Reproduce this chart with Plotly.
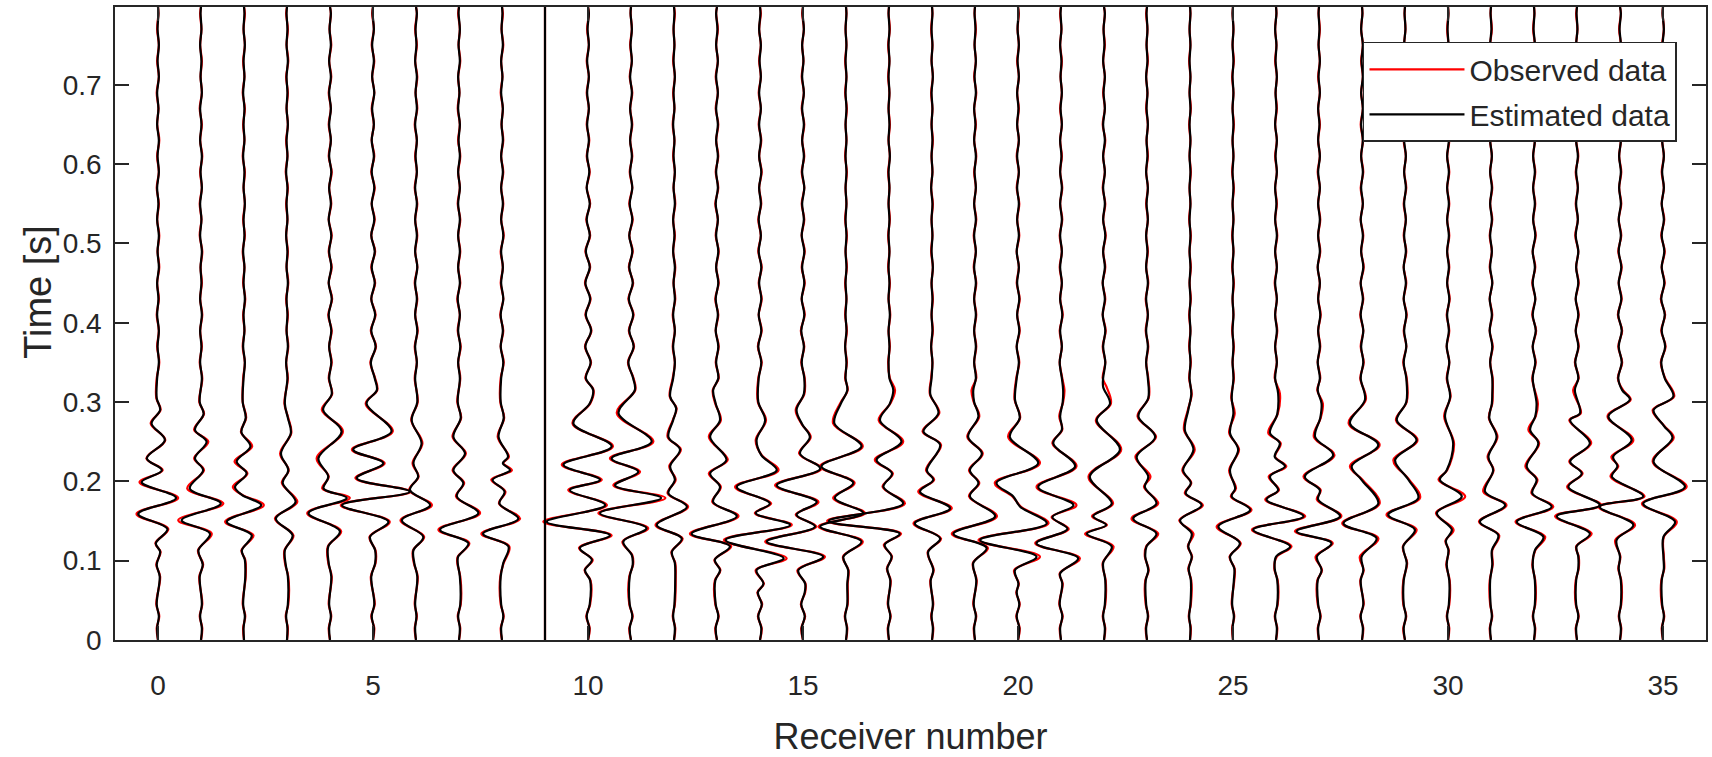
import plotly.graph_objects as go

# Receiver positions along the line (one trace per receiver)
RECEIVERS = list(range(36))

# Time knots (ms) of the quiet parts of every trace: before the arrivals and after them
LOW_MS = [0, 15, 30, 45]
HIGH_MS = [330, 350, 370, 390, 410, 430, 450, 470, 490, 510, 530, 550,
           570, 590, 610, 630, 650, 670, 690, 710, 730, 750, 770, 790, 798]

# Axis ticks
X_TICKS = [0, 5, 10, 15, 20, 25, 30, 35]
Y_TICKS = [0, 0.1, 0.2, 0.3, 0.4, 0.5, 0.6, 0.7]
Y_TICK_TEXT = ["0", "0.1", "0.2", "0.3", "0.4", "0.5", "0.6", "0.7"]

# Trace deflections in percent of the receiver spacing.
# *_WAVELET: "time_ms:deflection" pairs around the arrivals,
# *_LOW / *_HIGH: deflections at LOW_MS / HIGH_MS.
EST_WAVELET = [
    "80:4 95:-3 111:5 122:-5 140:22 159:-46 179:42 199:-38 214:9 229:-26 252:16 273:-15 290:5 305:-3",
    "80:-3 95:4 113:-6 134:21 151:-45 172:46 191:-26 214:5 229:-14 250:13 265:-14 285:6 300:-3",
    "80:3 101:2 113:-5 132:18 149:-40 170:40 183:-5 193:-21 210:6 225:-17 244:15 262:-6 280:4 300:-3",
    "80:2 95:-3 113:-5 132:13 153:-26 174:20 198:-10 214:3 235:-14 261:9 280:2 298:-5",
    "80:3 97:-3 118:-4 137:23 160:-50 179:39 191:-15 206:-4 229:-27 263:27 290:-16 310:4",
    "80:-4 97:5 113:5 130:-7 149:36 170:-72 187:85 204:-38 223:24 240:-46 263:43 298:-15 315:9",
    "80:3 97:-4 113:-6 130:17 151:-33 170:33 189:-14 206:5 223:-6 248:13 277:-10 300:3",
    "80:2 97:-3 105:-2 122:22 139:-44 160:45 181:-5 198:10 214:-13 235:14 256:-13 280:4 300:-3",
    "80:-3 97:3 118:15 134:-44 153:38 172:-6 187:6 202:-22 214:19 223:2 231:14 256:-8 280:4 300:-3",
    "",
    "75:5 88:-7 101:9 116:-19 132:51 149:-96 170:40 189:-42 202:28 221:-57 244:55 273:-34 298:4 315:12",
    "80:-3 95:4 107:2 124:-18 141:36 160:-72 179:70 195:-37 212:17 229:-45 250:48 286:-29 315:9",
    "80:3 97:2 111:-5 128:18 145:-40 168:30 185:-13 202:2 219:-9 240:14 256:-13 277:-2 292:5 307:-9",
    "75:-4 88:7 101:-5 118:30 134:-59 156:46 174:-9 193:7 210:-16 227:22 256:-16 277:7 298:-3 315:-9",
    "60:-5 71:8 88:-8 103:55 126:-80 145:70 160:-10 172:23 193:-54 214:39 233:3 252:-8 277:12 300:-4",
    "60:4 71:5 88:-11 105:47 124:-84 143:28 158:-15 174:32 195:-61 216:40 235:-7 256:16 272:-2 290:-15 310:2",
    "71:3 88:5 105:-6 124:36 143:-60 160:40 179:-26 198:17 219:-57 244:36 273:-27 298:-12 315:3",
    "75:3 90:-4 105:6 120:-10 134:25 150:-140 172:33 193:-13 210:7 227:-29 250:29 277:-21 298:2 315:10",
    "75:-3 88:3 111:-9 128:19 147:-40 166:42 187:-28 202:3 214:-12 246:19 263:-20 286:15 310:-4",
    "75:3 97:-4 116:27 134:-50 156:47 181:-12 198:8 214:-12 235:16 256:-16 282:8 300:-2 315:-4",
    "60:-3 71:1 88:-7 105:43 126:-88 147:67 168:5 181:-11 198:-50 223:47 256:-19 280:4 303:-7",
    "71:3 84:-2 103:40 122:-57 140:15 155:-20 170:29 193:-53 219:33 248:-18 265:2 282:-2 300:4 315:5",
    "75:3 97:-2 118:18 134:-40 145:5 156:-25 172:18 206:-33 240:37 277:-17 298:14 319:-2",
    "75:-3 88:3 105:-4 118:-1 134:22 153:-32 172:22 193:-5 206:3 231:-24 256:19 282:-20 305:3",
    "75:2 90:-3 105:4 118:-4 134:4 151:-23 170:27 185:-10 198:2 214:-16 240:8 265:-12 290:-4 310:3",
    "75:2 90:3 105:-7 122:16 143:-34 164:40 181:-3 191:5 214:-7 240:12 261:-7 286:1 305:-3",
    "75:3 90:-3 105:0 118:33 139:-53 156:64 177:-22 189:5 206:-14 219:21 231:-3 248:9 261:-14 285:3 311:5",
    "75:-3 88:6 105:-5 122:29 137:-52 156:49 177:-2 189:2 206:-33 233:33 256:-9 280:3 298:6 315:-3",
    "75:-3 88:3 105:-1 128:34 147:-43 172:38 202:-1 219:-24 246:38 273:-28 303:7",
    "75:-3 97:4 118:-4 139:23 158:-39 179:31 202:8 227:-23 252:27 277:-19 300:3",
    "75:3 95:-3 113:1 125:-5 139:9 160:-26 181:32 202:-19 214:-3 248:12 282:-7 307:5",
    "75:-2 95:3 113:2 132:17 149:-26 170:33 187:-14 214:5 231:-6 256:13 280:-4 298:2 310:3",
    "75:2 95:-3 113:2 130:22 149:-40 168:41 185:-4 202:6 219:-17 248:10 265:-9 282:3 298:6",
    "75:-2 90:3 105:3 118:-1 134:30 156:-47 170:53 193:-20 210:11 225:-16 248:30 277:-16 286:7 315:-5",
    "75:2 90:-3 105:0 126:-8 145:31 168:-47 181:54 206:-19 219:-6 231:-16 252:27 282:-27 303:23 315:5",
    "75:-3 90:2 105:1 130:1 149:28 172:-46 193:51 225:-22 255:22 270:2 290:-22 307:24",
]

OBS_WAVELET = [
    "80:5 95:-4 111:6 122:-6 140:24 159:-50 179:47 199:-43 214:11 229:-27 252:17 273:-17 290:6 305:-4",
    "80:-4 95:5 113:-7 134:25 151:-53 172:52 191:-32 214:7 229:-16 250:17 265:-16 285:7 300:-4",
    "80:4 101:3 113:-6 132:22 149:-44 170:46 183:-4 193:-26 210:8 225:-22 244:19 262:-7 280:5 300:-3",
    "80:3 95:-4 113:-6 132:15 153:-28 174:24 198:-12 214:4 235:-16 261:10 280:3 298:-6",
    "80:4 97:-4 118:-5 137:26 160:-53 179:46 191:-18 206:-3 229:-31 263:30 290:-19 310:5",
    "80:-5 97:6 113:6 130:-8 149:39 170:-75 187:88 204:-41 223:27 240:-49 263:46 298:-17 315:10",
    "80:4 97:-5 113:-7 130:19 151:-36 170:37 189:-16 206:6 223:-8 248:15 277:-11 300:4",
    "80:3 97:-4 105:-3 122:24 139:-48 160:49 181:-7 198:12 214:-15 235:16 256:-15 280:5 300:-4",
    "80:-4 97:4 118:17 134:-48 153:42 172:-7 187:8 202:-25 214:23 223:3 231:16 256:-10 280:5 300:-4",
    "",
    "75:6 88:-8 101:11 116:-21 132:55 149:-104 170:44 189:-46 202:32 221:-61 244:58 273:-36 298:5 315:13",
    "80:-4 95:5 107:3 124:-20 141:40 160:-76 179:80 195:-41 212:21 229:-49 250:52 286:-33 315:10",
    "80:4 97:3 111:-6 128:20 145:-43 168:33 185:-15 202:4 219:-11 240:16 256:-15 277:-3 292:6 307:-10",
    "75:-5 88:8 101:-6 118:33 134:-63 156:50 174:-11 193:9 210:-19 227:25 256:-19 277:9 298:-4 315:-10",
    "60:-6 71:9 88:-10 103:62 126:-84 145:74 160:-12 172:26 193:-58 214:43 233:4 252:-10 277:14 300:-5",
    "60:5 71:6 88:-13 105:51 124:-88 143:31 158:-17 174:36 195:-65 216:43 235:-9 256:18 272:-3 290:-17 310:3",
    "71:4 88:6 105:-7 124:39 143:-64 160:44 179:-30 198:20 219:-60 244:39 273:-30 298:-14 315:4",
    "75:4 90:-5 105:7 120:-12 134:28 150:-144 172:37 193:-15 210:9 227:-33 250:33 277:-24 298:3 315:14",
    "75:-4 88:4 111:-10 128:21 147:-43 166:46 187:-32 202:5 214:-14 246:21 263:-22 286:17 310:-5",
    "75:4 97:-5 116:30 134:-54 156:51 181:-14 198:10 214:-14 235:18 256:-18 282:10 300:-3 315:-8",
    "60:-4 71:2 88:-9 105:51 126:-92 147:71 168:7 181:-13 198:-54 223:51 256:-23 280:5 303:-8",
    "71:4 84:-3 103:44 122:-60 140:18 155:-22 170:36 193:-57 219:36 248:-20 265:3 282:-4 300:5 315:8",
    "75:4 97:-3 118:22 134:-44 145:7 156:-28 172:21 206:-36 240:40 277:-19 298:16 319:6",
    "75:-4 88:4 105:-5 118:-2 134:26 153:-36 172:26 193:-7 206:8 231:-27 256:21 282:-22 305:4",
    "75:3 90:-4 105:5 118:-5 134:8 151:-25 170:30 185:-12 198:3 214:-18 240:11 265:-14 290:-5 310:4",
    "75:3 90:4 105:-8 122:18 143:-38 164:43 181:-5 191:7 214:-9 240:14 261:-9 286:4 305:-4",
    "75:4 90:-4 105:2 118:36 139:-56 156:68 177:-25 189:7 206:-17 219:24 231:-2 248:11 261:-18 285:4 311:9",
    "75:-4 88:7 105:-8 122:32 137:-56 156:52 177:-5 189:4 206:-36 233:36 256:-12 280:4 298:9 315:-4",
    "75:-4 88:4 105:-5 128:38 147:-46 172:41 202:1 219:-28 246:41 273:-31 303:9",
    "75:-4 97:5 118:-5 139:27 158:-43 179:35 202:10 227:-27 252:29 277:-21 300:4",
    "75:4 95:-4 113:2 125:-6 139:13 160:-28 181:40 202:-22 214:-2 248:14 282:-9 307:6",
    "75:-3 95:4 113:3 132:19 149:-28 170:36 187:-18 214:6 231:-8 256:15 280:-5 298:3 310:4",
    "75:3 95:-4 113:3 130:26 149:-43 168:45 185:-6 202:8 219:-20 248:12 265:-13 282:4 298:9",
    "75:-3 90:4 105:4 118:-2 134:34 156:-51 170:56 193:-23 210:13 225:-18 248:33 277:-18 286:9 315:-9",
    "75:3 90:-4 105:1 126:-11 145:35 168:-50 181:57 206:-22 219:-4 231:-20 252:31 282:-29 303:25 315:7",
    "75:-4 90:3 105:2 130:2 149:32 172:-49 193:55 225:-24 255:25 270:3 290:-24 307:26",
]

EST_LOW = [
    "0 -2 2 -3", "0 2 -2 2", "0 -1 2 -2", "0 1 -2 2", "0 -2 2 -2", "0 2 -3 3",
    "0 -2 1 -2", "0 2 -2 3", "0 -2 3 -2", "0 0 0 0", "0 3 -3 4", "0 -3 3 -3",
    "0 2 -2 1", "0 -3 3 -3", "0 3 -4 4", "0 -3 4 -4", "0 2 -2 3", "0 -2 3 -2",
    "0 2 -1 2", "0 -2 2 -3", "0 3 -3 3", "0 -2 3 -3", "0 2 -2 2", "0 -2 2 -2",
    "0 1 -2 1", "0 -1 2 -2", "0 2 -2 3", "0 -2 3 -2", "0 2 -3 3", "0 -3 2 -3",
    "0 2 -2 2", "0 -2 2 -1", "0 2 -2 2", "0 -2 3 -2", "0 2 -2 2", "0 -2 2 -2",
]

OBS_LOW = [
    "0 -3 3 -4", "0 3 -3 3", "0 -2 3 -3", "0 2 -3 3", "0 -3 3 -3", "0 3 -4 4",
    "0 -3 2 -3", "0 3 -3 4", "0 -3 4 -3", "0 0 0 0", "0 4 -4 5", "0 -4 4 -4",
    "0 3 -3 2", "0 -4 4 -4", "0 4 -5 5", "0 -4 5 -5", "0 3 -3 4", "0 -3 4 -3",
    "0 3 -2 3", "0 -3 3 -4", "0 4 -4 4", "0 -3 4 -4", "0 3 -3 3", "0 -3 3 -3",
    "0 2 -3 2", "0 -2 3 -3", "0 3 -3 4", "0 -3 4 -3", "0 3 -4 4", "0 -4 3 -4",
    "0 3 -3 3", "0 -3 3 -2", "0 3 -3 3", "0 -3 4 -3", "0 3 -3 3", "0 -3 3 -3",
]

EST_HIGH = [
    "-2 2 -1 2 -2 1 -2 2 -1 2 -2 1 -2 2 -1 2 -2 1 -2 2 -1 2 -1 1 0",
    "2 -2 1 -2 2 -2 1 -1 2 -2 1 -2 2 -1 2 -2 1 -2 2 -1 1 -2 1 -1 0",
    "-1 2 -2 1 -1 2 -1 1 -2 1 -1 2 -1 1 -2 1 -1 1 -2 1 -1 2 -1 1 0",
    "1 -2 2 -1 1 -1 2 -1 1 -2 1 -1 1 -2 1 -1 2 -1 1 -1 2 -1 1 -1 0",
    "-2 3 -2 3 -3 4 -3 3 -2 3 -3 2 -2 3 -2 2 -2 2 -2 2 -2 2 -1 2 0",
    "4 -5 6 -4 5 -4 4 -3 4 -4 3 -3 3 -3 2 -3 2 -2 3 -2 2 -2 2 -1 0",
    "-2 2 -2 3 -2 2 -2 3 -2 2 -2 2 -2 2 -1 2 -2 2 -1 2 -2 1 -1 2 0",
    "2 -2 3 -2 2 -3 2 -2 2 -2 2 -2 2 -2 2 -1 2 -2 1 -2 2 -1 2 -1 0",
    "-2 3 -3 2 -3 3 -2 2 -2 3 -2 2 -2 2 -2 2 -1 2 -2 1 -2 2 -1 1 0",
    "0 0 0 0 0 0 0 0 0 0 0 0 0 0 0 0 0 0 0 0 0 0 0 0 0",
    "-5 6 -6 7 -5 5 -6 4 -5 4 -3 4 -3 3 -2 2 -2 2 -2 2 -2 2 -1 2 0",
    "5 -6 6 -4 5 -5 4 -4 3 -4 3 -3 3 -2 2 -2 2 -2 2 -2 2 -1 2 -1 0",
    "-2 2 -2 2 -2 2 -1 2 -2 1 -2 2 -1 2 -1 1 -2 1 -1 2 -1 1 -1 1 0",
    "3 -2 3 -3 2 -3 3 -2 3 -2 2 -3 2 -2 2 -2 2 -2 2 -2 2 -2 1 -2 0",
    "-3 3 -4 3 -3 3 -2 3 -3 2 -3 2 -2 3 -2 2 -2 2 -2 2 -1 2 -2 1 0",
    "3 -3 2 -4 3 -3 3 -2 3 -3 2 -2 3 -2 2 -2 2 -2 2 -2 1 -2 2 -1 0",
    "-1 1 -2 1 -1 1 -1 1 -1 1 -1 1 -1 1 -1 1 -1 1 -1 1 -1 1 -1 1 0",
    "1 -1 1 -1 2 -1 1 -1 1 -1 1 -1 1 -1 2 -1 1 -1 1 -1 1 -1 1 -1 0",
    "-1 1 -2 1 -1 1 -1 2 -1 1 -1 1 -2 1 -1 1 -1 1 -1 2 -1 1 -1 1 0",
    "2 -2 2 -2 2 -2 2 -2 2 -2 2 -2 2 -1 2 -2 1 -2 2 -1 2 -1 1 -1 0",
    "-3 2 -3 3 -2 3 -2 2 -3 2 -2 2 -2 2 -2 2 -2 1 -2 2 -1 2 -1 1 0",
    "2 -3 2 -2 3 -2 2 -2 2 -2 2 -2 2 -2 1 -2 2 -1 2 -1 1 -2 1 -1 0",
    "-2 3 -2 3 -3 2 -3 2 -2 3 -2 2 -2 2 -2 2 -2 2 -1 2 -2 1 -1 2 0",
    "2 -2 2 -2 2 -2 2 -2 1 -2 2 -1 2 -2 1 -1 2 -1 1 -2 1 -1 1 -1 0",
    "-1 1 -1 1 -1 1 -1 1 -1 1 -1 1 -1 1 -1 1 -1 1 -1 1 -1 1 -1 1 0",
    "1 -1 1 -1 1 -1 1 -1 1 -1 1 -1 1 -1 1 -1 1 -1 1 -1 1 -1 1 -1 0",
    "-2 2 -2 2 -2 2 -2 2 -2 2 -2 1 -2 2 -1 2 -2 1 -1 2 -1 1 -2 1 0",
    "2 -3 2 -2 3 -2 2 -3 2 -2 2 -2 2 -2 2 -2 1 -2 2 -1 2 -1 1 -1 0",
    "-3 3 -2 3 -3 2 -3 3 -2 2 -3 2 -2 2 -2 2 -2 2 -2 2 -1 2 -2 1 0",
    "3 -3 3 -2 3 -3 2 -3 2 -2 2 -2 2 -2 2 -2 2 -2 2 -1 2 -2 1 -1 0",
    "-2 3 -3 2 -2 3 -2 2 -2 2 -2 2 -2 2 -2 2 -1 2 -2 1 -2 1 -1 1 0",
    "3 -2 3 -3 2 -3 3 -2 2 -2 2 -2 2 -2 2 -2 1 -2 2 -1 1 -2 1 -1 0",
    "-3 3 -3 4 -3 3 -3 2 -3 3 -2 2 -2 2 -2 2 -2 2 -2 1 -2 2 -1 1 0",
    "3 -4 3 -3 3 -3 3 -2 3 -3 2 -2 2 -2 2 -2 2 -2 2 -2 1 -2 1 -1 0",
    "-4 4 -3 4 -4 3 -3 3 -3 2 -3 2 -2 2 -2 2 -2 2 -2 1 -2 2 -1 2 0",
    "4 -4 5 -3 4 -4 3 -3 3 -3 2 -3 2 -2 2 -2 2 -2 2 -2 2 -1 2 -1 0",
]

OBS_HIGH = [
    "-3 3 -2 2 -3 2 -2 3 -1 3 -2 2 -3 2 -2 3 -2 1 -3 2 -2 2 -2 1 0",
    "3 -3 2 -2 3 -2 2 -1 3 -3 1 -3 2 -2 3 -2 2 -3 2 -1 2 -2 1 -2 0",
    "-2 2 -3 1 -2 3 -2 1 -3 2 -2 2 -1 2 -3 1 -2 2 -3 1 -2 2 -1 2 0",
    "2 -2 3 -1 2 -2 3 -1 2 -2 1 -2 2 -3 1 -2 2 -1 2 -2 3 -1 2 -2 0",
    "-3 4 -2 4 -4 5 -3 4 -3 4 -3 3 -2 4 -3 2 -3 2 -3 3 -2 3 -1 2 0",
    "5 -6 7 -5 6 -4 5 -4 5 -4 4 -3 4 -4 3 -3 2 -3 3 -2 3 -3 2 -2 0",
    "-3 2 -3 4 -2 3 -3 3 -2 3 -2 3 -3 2 -2 2 -3 3 -1 3 -2 2 -2 2 0",
    "3 -2 4 -3 2 -4 3 -2 3 -2 3 -3 2 -2 3 -2 2 -3 1 -2 3 -1 2 -2 0",
    "-3 4 -3 3 -4 3 -3 2 -3 4 -2 3 -2 3 -2 3 -1 2 -3 1 -2 3 -1 2 0",
    "0 0 0 0 0 0 0 0 0 0 0 0 0 0 0 0 0 0 0 0 0 0 0 0 0",
    "-6 7 -7 8 -6 6 -7 5 -6 5 -4 5 -3 4 -3 3 -3 2 -3 2 -3 2 -2 2 0",
    "6 -7 7 -5 6 -6 5 -5 4 -4 4 -4 3 -3 3 -2 3 -2 3 -3 2 -2 2 -1 0",
    "-3 2 -3 2 -3 3 -1 3 -2 2 -2 3 -1 2 -2 1 -3 1 -2 2 -2 1 -1 2 0",
    "4 -3 4 -3 3 -4 4 -2 4 -3 2 -4 3 -3 3 -2 3 -3 2 -3 2 -2 2 -2 0",
    "-4 4 -5 4 -3 4 -3 4 -4 2 -4 3 -2 4 -2 3 -3 2 -3 2 -2 2 -2 2 0",
    "4 -4 3 -5 4 -3 4 -3 4 -3 3 -3 3 -3 3 -2 3 -3 2 -3 1 -2 2 -2 0",
    "-2 2 -2 2 -2 1 -2 2 -1 2 -2 1 -1 2 -2 1 -1 2 -2 1 -2 1 -1 1 0",
    "2 -2 2 -1 3 -1 2 -2 1 -2 2 -1 1 -2 2 -1 2 -1 1 -2 1 -2 2 -1 0",
    "-2 1 -2 2 -1 2 -1 2 -2 1 -1 2 -2 1 -1 2 -1 1 -2 2 -1 1 -2 1 0",
    "3 -2 3 -2 3 -2 3 -3 2 -3 3 -2 2 -2 3 -2 2 -2 3 -2 2 -1 2 -1 0",
    "-4 3 -3 4 -2 4 -3 2 -3 3 -2 3 -3 2 -3 2 -2 2 -2 2 -2 2 -1 2 0",
    "3 -3 2 -3 4 -2 2 -3 2 -3 3 -2 3 -2 2 -2 2 -2 2 -1 2 -2 1 -2 0",
    "-3 3 -3 4 -3 3 -3 3 -2 4 -2 3 -3 2 -2 3 -3 2 -2 2 -2 2 -1 2 0",
    "3 -2 3 -3 2 -3 3 -2 2 -2 2 -2 2 -2 2 -1 2 -2 1 -2 2 -1 1 -2 0",
    "-2 2 -2 1 -2 2 -1 2 -1 2 -2 1 -1 2 -1 1 -2 2 -1 1 -2 1 -1 1 0",
    "2 -1 2 -2 1 -1 2 -2 1 -2 1 -1 2 -2 1 -1 2 -1 1 -2 2 -1 1 -1 0",
    "-3 2 -2 3 -2 2 -3 2 -2 3 -2 2 -2 2 -2 2 -2 2 -1 2 -2 1 -2 1 0",
    "3 -3 3 -2 4 -2 2 -3 3 -2 3 -2 2 -3 2 -2 2 -2 2 -2 2 -1 2 -1 0",
    "-4 4 -3 3 -4 3 -3 4 -2 3 -3 2 -3 3 -2 2 -3 2 -2 2 -2 2 -2 1 0",
    "4 -4 3 -3 4 -3 3 -3 3 -3 2 -3 3 -2 2 -3 2 -2 2 -2 2 -2 1 -1 0",
    "-3 3 -3 3 -3 4 -2 3 -2 3 -2 3 -2 3 -2 3 -2 2 -2 2 -2 1 -2 1 0",
    "4 -2 4 -3 3 -3 3 -3 2 -3 3 -2 3 -2 2 -2 2 -2 2 -2 1 -2 2 -1 0",
    "-4 4 -3 5 -4 3 -4 3 -3 4 -2 3 -2 3 -2 2 -3 2 -2 2 -2 2 -2 1 0",
    "4 -5 4 -3 4 -3 4 -2 3 -4 2 -3 2 -3 3 -2 2 -2 3 -2 2 -2 1 -2 0",
    "-5 5 -4 5 -5 4 -3 4 -4 3 -3 3 -2 3 -2 2 -3 2 -2 2 -2 2 -2 2 0",
    "5 -5 6 -4 5 -5 4 -3 4 -4 3 -3 2 -3 2 -2 3 -2 2 -2 2 -2 2 -1 0",
]

INK = "#262626"
FONT = "Liberation Sans, Arial, Helvetica, sans-serif"


def trace_knots(low, wavelet, high):
    """Combine the three pieces of one trace into sorted (time_s, deflection) lists."""
    pts = list(zip(LOW_MS, [int(v) for v in low.split()]))
    for pair in wavelet.split():
        t, a = pair.split(":")
        pts.append((int(t), int(a)))
    pts += list(zip(HIGH_MS, [int(v) for v in high.split()]))
    pts.sort()
    times = [p[0] / 1000.0 for p in pts]
    defl = [p[1] / 100.0 for p in pts]
    return times, defl


fig = go.Figure()

series = [
    ("Observed data", "#ff0000", OBS_LOW, OBS_WAVELET, OBS_HIGH),
    ("Estimated data", "#000000", EST_LOW, EST_WAVELET, EST_HIGH),
]

for name, color, lows, wavelets, highs in series:
    for i, rec in enumerate(RECEIVERS):
        times, defl = trace_knots(lows[i], wavelets[i], highs[i])
        fig.add_trace(go.Scatter(
            x=[rec + d for d in defl],
            y=times,
            mode="lines",
            line=dict(color=color, width=2.2, shape="spline", smoothing=1.0),
            name=name,
            legendgroup=name,
            showlegend=(i == 0),
            hoverinfo="skip",
        ))

axis_common = dict(
    showline=True, linecolor=INK, linewidth=1.5, mirror="allticks",
    ticks="inside", ticklen=14, tickwidth=1.5, tickcolor=INK,
    showgrid=False, zeroline=False, automargin=False,
    tickfont=dict(family=FONT, size=28, color=INK),
)

fig.update_layout(
    width=1712, height=757, autosize=False,
    margin=dict(l=115, r=6, t=7, b=117),
    paper_bgcolor="white", plot_bgcolor="white",
    font=dict(family=FONT, color=INK),
    xaxis=dict(
        range=[-1, 36], tickvals=X_TICKS, ticklabelstandoff=20,
        title=dict(text="Receiver number", font=dict(family=FONT, size=36, color=INK), standoff=38),
        **axis_common,
    ),
    yaxis=dict(
        range=[0, 0.798], tickvals=Y_TICKS, ticktext=Y_TICK_TEXT, ticklabelstandoff=6,
        **axis_common,
    ),
    legend=dict(
        x=0.7844, y=0.945, xanchor="left", yanchor="top",
        bgcolor="white", bordercolor=INK, borderwidth=1.5,
        font=dict(family=FONT, size=30, color=INK),
        itemwidth=95, tracegroupgap=3,
    ),
    annotations=[dict(
        text="Time [s]", textangle=-90, showarrow=False,
        xref="paper", yref="paper", x=-0.0484, y=0.55,
        xanchor="center", yanchor="middle",
        font=dict(family=FONT, size=38, color=INK),
    )],
)

fig.write_html("out.html")
